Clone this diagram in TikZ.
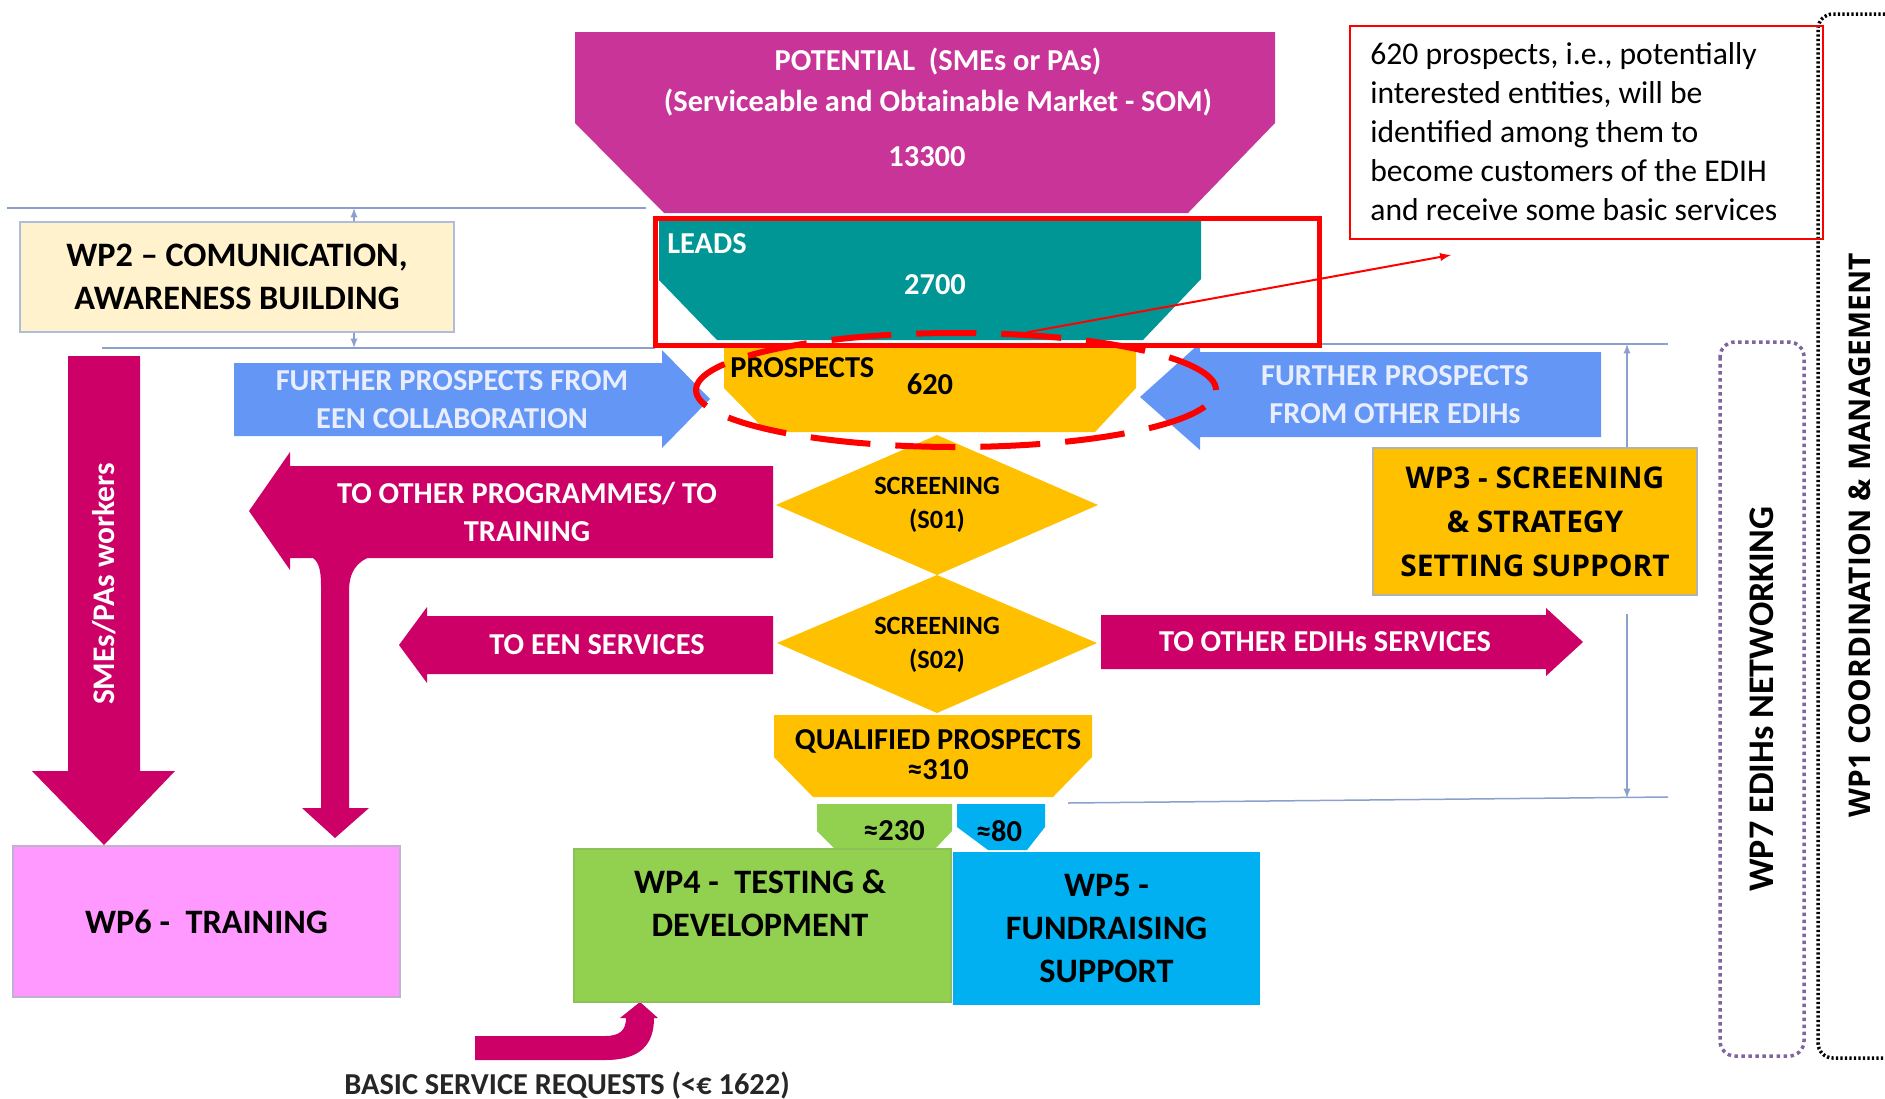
\documentclass[tikz,border=0pt]{standalone}
\usepackage{fontspec}
\setmainfont{Carlito}
\newfontfamily\widesans{Open Sans}
\usepackage{tikz}
\usetikzlibrary{shapes.geometric}
\definecolor{potcol}{RGB}{201,52,153}
\definecolor{leadcol}{RGB}{0,150,150}
\definecolor{ambcol}{RGB}{255,192,0}
\definecolor{crimcol}{RGB}{204,0,102}
\definecolor{bluecol}{RGB}{100,150,245}
\definecolor{paletxt}{RGB}{232,238,255}
\definecolor{wptwocol}{RGB}{255,242,204}
\definecolor{greencol}{RGB}{146,208,80}
\definecolor{skycol}{RGB}{0,176,240}
\definecolor{pinkcol}{RGB}{255,153,255}
\definecolor{guidecol}{RGB}{140,160,205}
\definecolor{purpcol}{RGB}{128,100,160}

\begin{document}
\begin{tikzpicture}[x=0.2mm,y=-0.2mm,
  lbl/.style={font=\bfseries\fontsize{17.3}{21.6}\selectfont,align=center,inner sep=0pt},
  wlbl/.style={lbl,text=white},
  big/.style={font=\bfseries\fontsize{19.5}{24.4}\selectfont,align=center,inner sep=0pt},
  wide/.style={font=\widesans\bfseries\fontsize{17}{25}\selectfont,align=center,inner sep=0pt},
  guide/.style={guidecol,line width=0.3mm}]
\useasboundingbox (0,0) rectangle (1885,1098);
%guide lines
\draw[guide] (7,208)--(646,208);
\draw[guide] (102,348)--(655,348);
\draw[guide] (1200,344)--(1668,344);
\draw[guide] (1068,803)--(1668,797);
\coordinate (gA) at (354,208);
\coordinate (gB) at (354,348);
\coordinate (gC) at (1627,344);
\coordinate (gD) at (1627,798);
\coordinate (gE) at (1627,614);
%funnel
\fill[potcol] (575,32)--(1275,32)--(1275,123)--(1188,213)--(664,213)--(575,123)--cycle;
\fill[leadcol] (659,220)--(1201,220)--(1201,279)--(1143,340)--(717,340)--(659,280)--cycle;
\fill[ambcol] (724,345)--(1136,345)--(1136,388)--(1095,432)--(767,432)--(724,388)--cycle;
\fill[ambcol] (776,505)--(937,435)--(1098,505)--(937,575)--cycle;
\fill[ambcol] (777,643)--(937,575)--(1097,643)--(937,713)--cycle;
\fill[ambcol] (774,715)--(1092,715)--(1092,757)--(1053,797)--(813,797)--(774,757)--cycle;
\fill[greencol] (817,804)--(952,804)--(952,831)--(934,850)--(836,850)--(817,831)--cycle;
\fill[skycol] (957,804)--(1045,804)--(1045,827)--(1027,850)--(988,850)--(957,827)--cycle;
\node[wlbl] (pot1) at (938,62) {POTENTIAL~ (SMEs or PAs)};
\node[wlbl] (pot2) at (938,103) {(Serviceable and Obtainable Market - SOM)};
\node[wlbl] (pot3) at (927,157) {13300};
\node[wlbl,anchor=west] (leads) at (667,244) {LEADS};
\node[wlbl] (leadsnum) at (935,285) {2700};
\node[lbl,anchor=west] (prosp) at (730,368) {PROSPECTS};
\node[lbl] (prospnum) at (930,384) {620};
\node[lbl,font=\bfseries\fontsize{15}{19.3}\selectfont] (scrone) at (937,505) {SCREENING\\(S01)};
\node[lbl,font=\bfseries\fontsize{15}{19.3}\selectfont] (scrtwo) at (937,645) {SCREENING\\(S02)};
\node[lbl,font=\bfseries\fontsize{17.3}{17}\selectfont] (qual) at (938,755) {QUALIFIED PROSPECTS\\≈310};
\node[lbl] (splitA) at (894,831) {≈230};
\node[lbl] (splitB) at (999,831) {≈80};
%blue arrows
\fill[bluecol] (234,363)--(662,363)--(662,350)--(710,399)--(662,448)--(662,436)--(234,436)--cycle;
\fill[bluecol] (1601,352)--(1200,352)--(1200,343)--(1140,397)--(1200,450)--(1200,437)--(1601,437)--cycle;
\node[lbl,text=paletxt] (eenin) at (452,400) {FURTHER PROSPECTS FROM\\EEN COLLABORATION};
\node[lbl,text=paletxt] (edihin) at (1395,395) {FURTHER PROSPECTS\\FROM OTHER EDIHs};
%crimson arrows
\fill[crimcol] (773,466)--(290,466)--(290,452)--(249,511)--(290,570)--(290,558)--(773,558)--cycle;
\fill[crimcol] (321,808)--(321,585) .. controls (321,568) and (318,560) .. (310,556)--(372,556) .. controls (356,562) and (349,572) .. (349,592)--(349,808)--(369,808)--(335,838)--(302,808)--cycle;
\fill[crimcol] (773,616)--(427,616)--(427,607)--(399,645)--(427,683)--(427,674)--(773,674)--cycle;
\fill[crimcol] (1101,615)--(1546,615)--(1546,608)--(1583,642)--(1546,676)--(1546,669)--(1101,669)--cycle;
\fill[crimcol] (68,356)--(140,356)--(140,771)--(175,771)--(104,845)--(32,771)--(68,771)--cycle;
\fill[crimcol] (475,1036)--(605,1036) .. controls (620,1036) and (626,1030) .. (626,1018)--(620,1018)--(640,1002)--(658,1018)--(654,1018) .. controls (654,1045) and (640,1060) .. (605,1060)--(475,1060)--cycle;
\node[wlbl] (toprog) at (527,512) {TO OTHER PROGRAMMES/ TO\\TRAINING};
\node[wlbl] (toeen) at (597,645) {TO EEN SERVICES};
\node[wlbl] (toedih) at (1325,642) {TO OTHER EDIHs SERVICES};
\node[wlbl,rotate=90,font=\bfseries\fontsize{17.9}{21}\selectfont] (smes) at (104,584) {SMEs/PAs workers};
\node[lbl,text=black!85] (basic) at (567,1085) {BASIC SERVICE REQUESTS (<€ 1622)};
%work packages
\node[big,draw=guidecol!70,fill=wptwocol,line width=0.3mm,minimum width=86.8mm,minimum height=22mm] (wptwo) at (237,277) {WP2 – COMUNICATION,\\AWARENESS BUILDING};
\node[big,draw=purpcol!50,fill=pinkcol,line width=0.3mm,minimum width=77.4mm,minimum height=30.2mm] (wpsix) at (206.5,921.5) {WP6 -~ TRAINING};
\filldraw[fill=greencol,draw=greencol!80!gray,line width=0.3mm] (574,849) rectangle (951,1002);
\node[big] (wpfour) at (760,903) {WP4 -~ TESTING \&\\DEVELOPMENT};
\node[big,fill=skycol,minimum width=61.4mm,minimum height=30.6mm] (wpfive) at (1106.5,928.5) {WP5 -\\FUNDRAISING\\SUPPORT};
\node[wide,draw=gray!60,fill=ambcol,line width=0.3mm,minimum width=64.8mm,minimum height=29.4mm] (wpthree) at (1535,521.5) {WP3 - SCREENING\\\& STRATEGY\\SETTING SUPPORT};
\node[rotate=90,draw=purpcol,line width=0.7mm,dash pattern=on 0.7mm off 0.7mm,rounded corners=3mm,minimum width=142.8mm,minimum height=16.8mm,font=\bfseries\fontsize{20.5}{24}\selectfont] (wpseven) at (1762,699) {WP7 EDIHs NETWORKING};
\draw[line width=0.7mm,dash pattern=on 0.45mm off 0.45mm,rounded corners=3mm] (1885,14) -| (1818,1058) -- (1885,1058);
\node[wide,rotate=90] (wpone) at (1860,535) {WP1 COORDINATION \& MANAGEMENT};
%small arrows
\draw[guide,-latex] (gA |- wptwo.north) -- (gA);
\draw[guide,-latex] (gB |- wptwo.south) -- (gB);
\draw[guide,-latex] (gC |- wpthree.north) -- (gC);
\draw[guide,-latex] (gE) -- (gD);
%explaination
\node[draw=red,line width=1mm,minimum width=132.8mm,minimum height=25.4mm,inner sep=0pt] (hilite) at (987,281.5) {};
\node[ellipse,draw=red,line width=1.2mm,dash pattern=on 12mm off 5mm,minimum width=104mm,minimum height=22.8mm,inner sep=0pt] (ring) at (956,390) {};
\node[draw=red,line width=0.4mm,minimum width=94.6mm,minimum height=42.6mm] (notebox) at (1586.5,132.5) {};
\node[font=\fontsize{18}{22.2}\selectfont,align=left,anchor=west,inner sep=0pt] (note) at (1370,132) {620 prospects, i.e., potentially\\interested entities, will be\\identified among them to\\become customers of the EDIH\\and receive some basic services};
\coordinate (notetip) at (1451,255);
\draw[red,line width=0.4mm,-latex] (ring.39) -- (notetip);
\end{tikzpicture}
\end{document}
